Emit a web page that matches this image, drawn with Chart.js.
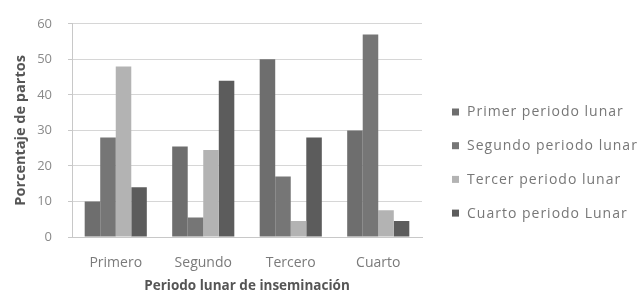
<!DOCTYPE html>
<html>
<head>
<meta charset="utf-8">
<script src="https://cdn.jsdelivr.net/npm/chart.js@4"></script>
<style>
    html, body { margin: 0; padding: 0; background: #fff; }
    #wrap { width: 639px; height: 299px; }
</style>
</head>
<body>
<div id="wrap"><canvas id="chart" width="639" height="299"></canvas></div>
<script>
// =============================
// DATA
// =============================
const categories = ["Primero", "Segundo", "Tercero", "Cuarto"];
const seriesNames = ["Primer periodo lunar", "Segundo periodo lunar", "Tercer periodo lunar", "Cuarto periodo Lunar"];
const primer  = [10, 25.5, 50, 30];
const segundo = [28, 5.5, 17, 57];
const tercer  = [48, 24.5, 4.5, 7.5];
const cuarto  = [14, 44, 28, 4.5];
const yTicks = [0, 10, 20, 30, 40, 50, 60];

const colors = ["#6e6e6e", "#767676", "#b3b3b3", "#5c5c5c"];
const font = "'Open Sans', 'DejaVu Sans', sans-serif";

// wider spacing, like the scanned original
const spacing = {
    id: "spacing",
    beforeInit(chart) { chart.ctx.letterSpacing = "1px"; }
};

// =============================
// LEGEND (drawn to the right of the plot)
// =============================
const sideLegend = {
    id: "sideLegend",
    afterDraw(chart) {
        const ctx = chart.ctx;
        const x0 = 452, y0 = 112, step = 33.7;
        ctx.save();
        ctx.font = "14px " + font;
        ctx.letterSpacing = "1px";
        ctx.textBaseline = "middle";
        chart.data.datasets.forEach((ds, i) => {
            const y = y0 + i * step;
            ctx.fillStyle = ds.backgroundColor;
            ctx.fillRect(x0, y - 3.5, 7, 7);
            ctx.fillStyle = "#777";
            ctx.fillText(ds.label, x0 + 15, y + 0.5);
        });
        ctx.restore();
    }
};

// =============================
// CHART
// =============================
function loadChart() {
    const ctx = document.getElementById("chart");
    const values = [primer, segundo, tercer, cuarto];

    new Chart(ctx, {
        type: "bar",
        data: {
            labels: categories,
            datasets: seriesNames.map((name, i) => ({
                label: name,
                data: values[i],
                backgroundColor: colors[i],
                borderWidth: 0,
                categoryPercentage: 0.71,
                barPercentage: 1.0
            }))
        },
        options: {
            responsive: false,
            animation: false,
            layout: { padding: { top: 17, right: 217, bottom: 0, left: 0 } },
            plugins: {
                legend: { display: false },
                tooltip: { enabled: false }
            },
            scales: {
                x: {
                    grid: { display: false, drawTicks: false },
                    border: { display: true, color: "#c8c8c8" },
                    ticks: {
                        color: "#7a7a7a",
                        font: { family: font, size: 14 },
                        padding: 18
                    },
                    title: {
                        display: true,
                        text: "Periodo lunar de inseminación",
                        color: "#555",
                        font: { family: font, size: 13.5, weight: "bold" },
                        padding: { top: 0, bottom: 5 }
                    },
                    afterFit(scale) { scale.height = 62; }
                },
                y: {
                    min: 0,
                    max: 60,
                    afterBuildTicks(scale) {
                        scale.ticks = yTicks.map(v => ({ value: v }));
                    },
                    grid: { color: "#d6d6d6", tickLength: 4, tickColor: "#c8c8c8" },
                    border: { display: true, color: "#c8c8c8" },
                    ticks: {
                        color: "#8a8a8a",
                        font: { family: font, size: 13 },
                        padding: 16
                    },
                    title: {
                        display: true,
                        text: "Porcentaje de partos",
                        color: "#555",
                        font: { family: font, size: 14.5, weight: "bold" },
                        padding: { top: 12, bottom: 0 }
                    },
                    afterFit(scale) { scale.width = 72; }
                }
            }
        },
        plugins: [spacing, sideLegend]
    });
}

document.addEventListener("DOMContentLoaded", function () {
    loadChart();
});
</script>
</body>
</html>
